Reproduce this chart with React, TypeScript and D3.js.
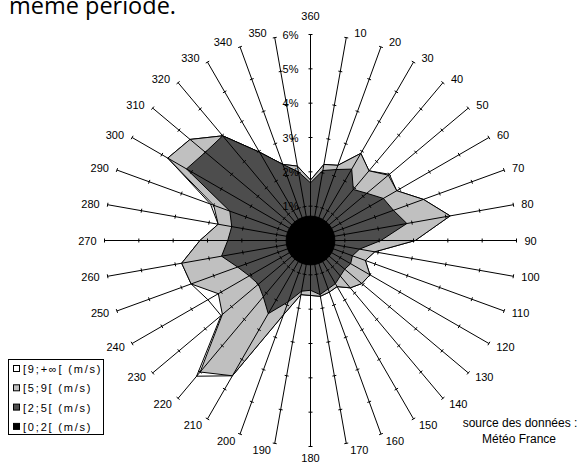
import React from "react";
import * as d3 from "d3";

// wind directions (degrees) and their labels
const directions = [0, 10, 20, 30, 40, 50, 60, 70, 80, 90, 100, 110, 120, 130, 140, 150, 160, 170,
  180, 190, 200, 210, 220, 230, 240, 250, 260, 270, 280, 290, 300, 310, 320, 330, 340, 350];
const dirLabels = ["360", "10", "20", "30", "40", "50", "60", "70", "80", "90", "100", "110", "120",
  "130", "140", "150", "160", "170", "180", "190", "200", "210", "220", "230", "240", "250", "260",
  "270", "280", "290", "300", "310", "320", "330", "340", "350"];

// cumulative frequencies (%) per speed class
const speed0to2 = [0.71, 0.71, 0.71, 0.71, 0.71, 0.71, 0.71, 0.71, 0.71, 0.71, 0.71, 0.71, 0.71,
  0.71, 0.71, 0.71, 0.71, 0.71, 0.71, 0.71, 0.71, 0.71, 0.71, 0.71, 0.71, 0.71, 0.71, 0.71, 0.71,
  0.71, 0.71, 0.71, 0.71, 0.71, 0.71, 0.71];
const speed2to5 = [1.68, 2.07, 2.2, 2.4, 1.94, 2.14, 2.45, 2.57, 2.85, 2.05, 1.45, 1.3, 1.35, 1.3,
  1.35, 1.45, 1.5, 1.6, 1.45, 1.5, 1.9, 2.46, 2.14, 1.98, 2.06, 2.26, 2.63, 2.41, 2.33, 2.5, 4.17,
  4.0, 3.98, 2.97, 2.36, 2.03];
const speed5to9 = [1.76, 2.25, 2.33, 2.93, 2.65, 2.96, 2.9, 3.5, 4.13, 3.05, 1.9, 1.7, 2.0, 1.95,
  1.8, 1.55, 1.6, 1.65, 1.6, 1.6, 2.3, 4.55, 5.0, 3.35, 3.1, 3.7, 3.81, 3.22, 2.73, 3.0, 4.8, 4.58,
  3.98, 2.97, 2.36, 2.2];
const speed9plus = [1.76, 2.25, 2.33, 2.93, 2.65, 3.0, 2.9, 3.5, 4.13, 3.05, 1.9, 1.7, 2.0, 1.95,
  1.8, 1.55, 1.6, 1.65, 1.6, 1.6, 2.3, 4.55, 5.16, 3.4, 3.45, 3.7, 3.81, 3.22, 2.73, 3.1, 4.8, 4.58,
  3.98, 2.97, 2.36, 2.2];

const pctTicks = [1, 2, 3, 4, 5, 6];
const legendLabels = ["[9;+\u221e[ (m/s)", "[5;9[ (m/s)", "[2;5[ (m/s)", "[0;2[ (m/s)"];
const legendColors = ["#ffffff", "#c0c0c0", "#4d4d4d", "#000000"];

const W = 581;
const H = 464;
const cx = 310.5;
const cy = 240.5;
const R = 206;
const font = "Arial, 'Liberation Sans', sans-serif";

export default function App() {
  const r = d3.scaleLinear().domain([0, 6]).range([0, R]);
  const a = d3.scaleLinear().domain([0, 360]).range([0, 2 * Math.PI]);
  const radial = d3
    .lineRadial<number>()
    .angle((d, i) => a(directions[i]))
    .radius((d) => r(d))
    .curve(d3.curveLinearClosed);

  const series = [speed9plus, speed5to9, speed2to5, speed0to2];

  return (
    <svg width={W} height={H} style={{ position: "absolute", left: 0, top: 0, background: "#fff" }}>
      <text x={9} y={14} fontFamily="'Open Sans', sans-serif" fontSize={23.5} fill="#000">
        même période.
      </text>
      <g transform={`translate(${cx},${cy})`}>
        {series.map((s, k) => (
          <path key={k} d={radial(s) || ""} fill={legendColors[k]} stroke="#000" strokeWidth={1} />
        ))}
        {directions.map((dir, i) => {
          const t = a(dir);
          const sx = Math.sin(t);
          const sy = -Math.cos(t);
          return (
            <g key={dir}>
              <line x1={0} y1={0} x2={r(6) * sx} y2={r(6) * sy} stroke="#000" strokeWidth={1} />
              {pctTicks.map((p) => {
                const px = r(p) * sx;
                const py = r(p) * sy;
                return (
                  <line key={p} x1={px + 2 * Math.cos(t)} y1={py + 2 * Math.sin(t)}
                    x2={px - 2 * Math.cos(t)} y2={py - 2 * Math.sin(t)} stroke="#000" strokeWidth={1} />
                );
              })}
            </g>
          );
        })}
        {directions.map((dir, i) => {
          const t = a(dir);
          const s = Math.sin(t);
          const c = Math.cos(t);
          const ex = R * s;
          const ey = -R * c;
          let x = ex, y = ey, anchor = "middle";
          if (Math.abs(s) < 0.01) {
            y = c > 0 ? ey - 19 : ey + 11;
          } else {
            anchor = s > 0 ? "start" : "end";
            const dx = c > 0 ? 8 : 3 + 5 * Math.abs(s);
            x = ex + Math.sign(s) * dx;
            y = ey + (c > 0 ? -5 * c : -7 * c);
          }
          return (
            <text key={dir} x={x} y={y} textAnchor={anchor} dominantBaseline="central"
              fontFamily={font} fontSize={11} fill="#000">
              {dirLabels[i]}
            </text>
          );
        })}
        {pctTicks.map((p) => (
          <text key={p} x={-12} y={-r(p)} textAnchor="end" dominantBaseline="central"
            fontFamily={font} fontSize={11} fill="#000">
            {p + "%"}
          </text>
        ))}
      </g>
      <g>
        <rect x={8.5} y={359.5} width={95} height={75} fill="#fff" stroke="#000" strokeWidth={1} />
        {legendLabels.map((lab, i) => (
          <g key={lab} transform={`translate(13,${369 + i * 19.3})`}>
            <rect x={0.5} y={-3.5} width={6} height={6} fill={legendColors[i]} stroke="#000" strokeWidth={1} />
            <text x={10} y={0} dominantBaseline="central" fontFamily={font} fontSize={11}
              letterSpacing={1.8} fill="#000">
              {lab}
            </text>
          </g>
        ))}
      </g>
      <text x={520} y={423} textAnchor="middle" dominantBaseline="central" fontFamily={font}
        fontSize={12} fill="#000">
        source des données :
      </text>
      <text x={519} y={439} textAnchor="middle" dominantBaseline="central" fontFamily={font}
        fontSize={12} fill="#000">
        Météo France
      </text>
    </svg>
  );
}
